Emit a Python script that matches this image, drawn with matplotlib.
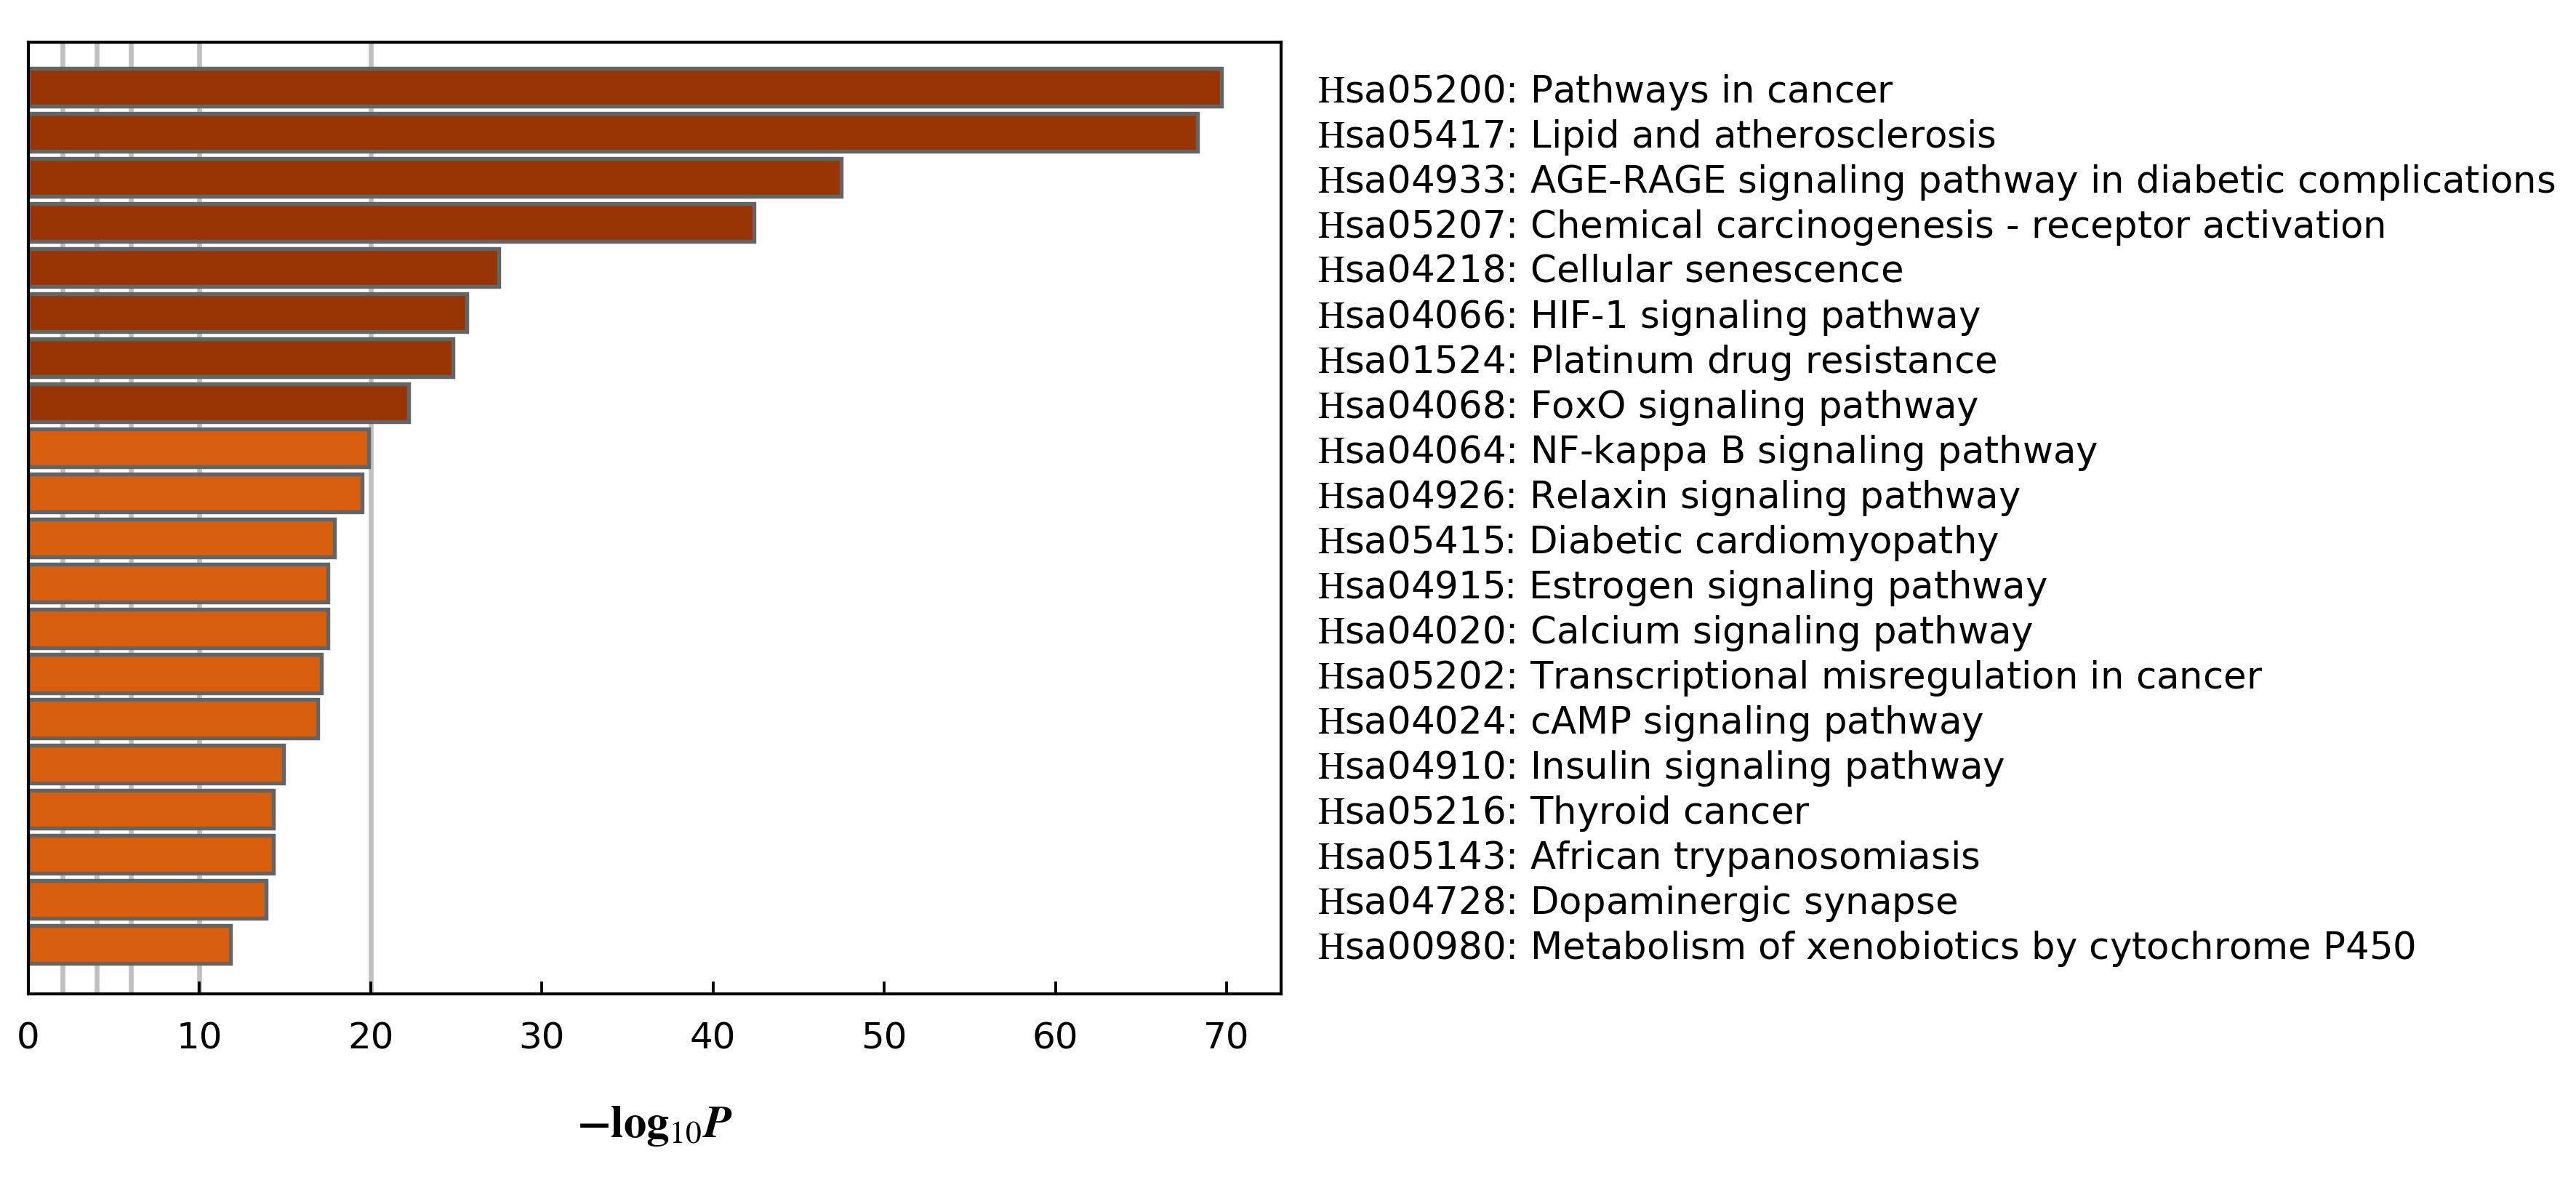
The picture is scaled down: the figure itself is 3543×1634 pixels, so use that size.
import numpy as np
import matplotlib.pyplot as plt

plt.rcParams['mathtext.fontset'] = 'stix'

# pathway terms (top to bottom) and -log10(P)
pathway_ids = ["05200", "05417", "04933", "05207", "04218", "04066", "01524", "04068",
               "04064", "04926", "05415", "04915", "04020", "05202", "04024", "04910",
               "05216", "05143", "04728", "00980"]
pathway_names = ["Pathways in cancer", "Lipid and atherosclerosis",
                 "AGE-RAGE signaling pathway in diabetic complications",
                 "Chemical carcinogenesis - receptor activation", "Cellular senescence",
                 "HIF-1 signaling pathway", "Platinum drug resistance", "FoxO signaling pathway",
                 "NF-kappa B signaling pathway", "Relaxin signaling pathway",
                 "Diabetic cardiomyopathy", "Estrogen signaling pathway",
                 "Calcium signaling pathway", "Transcriptional misregulation in cancer",
                 "cAMP signaling pathway", "Insulin signaling pathway", "Thyroid cancer",
                 "African trypanosomiasis", "Dopaminergic synapse",
                 "Metabolism of xenobiotics by cytochrome P450"]
neg_log_p = [69.7, 68.3, 47.5, 42.4, 27.5, 25.6, 24.8, 22.2, 19.9, 19.5,
             17.9, 17.5, 17.5, 17.1, 16.9, 14.9, 14.3, 14.3, 13.9, 11.8]
grid_at = [2, 4, 6, 10, 20]

dark, light = "#993404", "#d95f0e"
colors = [dark if v > 20 else light for v in neg_log_p]
labels = [r"$\mathrm{H}$sa%s: %s" % (i, n) for i, n in zip(pathway_ids, pathway_names)]

fig = plt.figure(figsize=(11.81, 5.447), dpi=300)
ax = fig.add_axes([0.011, 0.1634, 0.4863, 0.8011])

y = np.arange(len(neg_log_p))
for g in grid_at:
    ax.axvline(g, color="#c0c0c0", linewidth=1.6, zorder=0)
ax.barh(y, neg_log_p, height=0.84, color=colors, edgecolor="#646464", linewidth=1.3, zorder=2)

ax.set_ylim(len(y) - 1 + 1.1, -1.0)
ax.set_xlim(0, max(neg_log_p) * 1.05)
ax.set_xticks(np.arange(0, 71, 10))
ax.tick_params(axis="x", direction="in", length=4, width=0.9, pad=9, labelsize=12)

ax.set_yticks(y)
ax.set_yticklabels(labels, fontsize=12.35)
ax.yaxis.tick_right()
ax.tick_params(axis="y", length=0, pad=12)

for s in ax.spines.values():
    s.set_linewidth(1.0)

ax.set_xlabel(r"$\mathbf{-log}_{\mathrm{10}}\mathbfit{P}$", fontsize=15, labelpad=16)

fig.savefig("out.png", dpi=300)
